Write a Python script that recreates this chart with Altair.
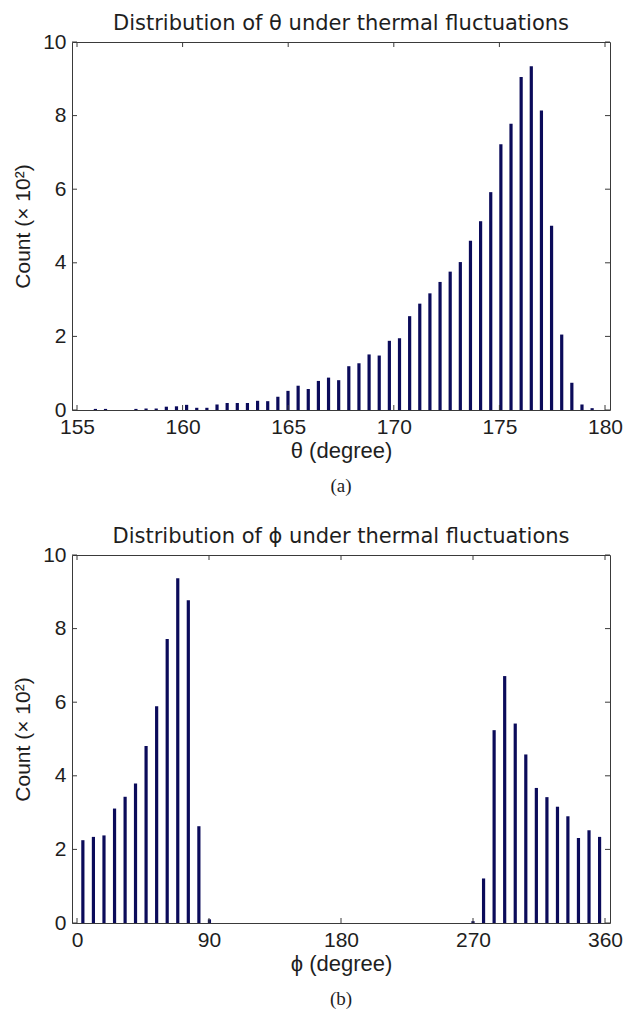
import altair as alt
import pandas as pd

# ---------------- data ----------------
theta_centers = [155.87, 156.35, 156.83, 157.31, 157.79, 158.27, 158.75, 159.23, 159.71, 160.19,
                 160.67, 161.15, 161.63, 162.11, 162.59, 163.07, 163.55, 164.03, 164.51, 164.99,
                 165.47, 165.95, 166.43, 166.91, 167.39, 167.87, 168.35, 168.83, 169.31, 169.79,
                 170.27, 170.75, 171.23, 171.71, 172.19, 172.67, 173.15, 173.63, 174.11, 174.59,
                 175.07, 175.55, 176.03, 176.51, 176.99, 177.47, 177.95, 178.43, 178.91, 179.39]
theta_counts = [0.03, 0.03, 0.0, 0.0, 0.03, 0.04, 0.04, 0.09, 0.10, 0.14,
                0.06, 0.06, 0.15, 0.19, 0.19, 0.19, 0.25, 0.24, 0.36, 0.52,
                0.66, 0.57, 0.79, 0.88, 0.81, 1.19, 1.27, 1.51, 1.48, 1.88,
                1.95, 2.55, 2.89, 3.17, 3.48, 3.76, 4.02, 4.60, 5.13, 5.92,
                7.22, 7.78, 9.05, 9.34, 8.14, 5.01, 2.05, 0.74, 0.15, 0.05]

phi_centers = [4.0, 11.2, 18.4, 25.6, 32.8, 39.9, 47.1, 54.3, 61.5, 68.7,
               75.9, 83.1, 90.3, 97.5, 104.7, 111.9, 119.0, 126.2, 133.4, 140.6,
               147.8, 155.0, 162.2, 169.4, 176.6, 183.8, 190.9, 198.1, 205.3, 212.5,
               219.7, 226.9, 234.1, 241.3, 248.5, 255.7, 262.8, 270.0, 277.2, 284.4,
               291.6, 298.8, 306.0, 313.2, 320.4, 327.6, 334.7, 341.9, 349.1, 356.3]
phi_counts = [2.25, 2.34, 2.38, 3.11, 3.43, 3.79, 4.81, 5.89, 7.72, 9.37,
              8.77, 2.63, 0.10, 0, 0, 0, 0, 0, 0, 0,
              0, 0, 0, 0, 0, 0, 0, 0, 0, 0,
              0, 0, 0, 0, 0, 0, 0, 0.05, 1.21, 5.24,
              6.71, 5.42, 4.58, 3.67, 3.42, 3.16, 2.90, 2.31, 2.52, 2.34]

theta_ticks = [155, 160, 165, 170, 175, 180]
phi_ticks = [0, 90, 180, 270, 360]
count_ticks = [0, 2, 4, 6, 8, 10]

# ---------------- style ----------------
W, H = 538, 368
BAR = "#0b0b5a"
EDGE = "#3a3a3a"
TXT = "#1e1e1e"
TICK = 5
FS = 21


def axis(vals, title, lp, tp, tfs):
    return alt.Axis(values=vals, title=title, labelFlush=False, format="d",
                    labelPadding=lp, titlePadding=tp, grid=False, domain=False,
                    ticks=False, labelFont="Liberation Sans", labelFontSize=FS,
                    labelColor=TXT, titleFont="Liberation Sans", titleFontSize=tfs,
                    titleFontWeight="normal", titleColor=TXT)


def panel(centers, counts, xticks, xdom, title, xtitle, caption):
    df = pd.DataFrame({"c": centers, "n": counts})
    xs = alt.Scale(domain=xdom, nice=False, zero=False)
    ys = alt.Scale(domain=[0, 10], nice=False)
    xax = axis(xticks, xtitle, 6, 3, 22)
    yax = axis(count_ticks, "Count (× 10²)", 6, 9, 21)

    bars = alt.Chart(df).mark_bar(size=3.2, color=BAR).encode(
        x=alt.X("c:Q", scale=xs, axis=xax),
        y=alt.Y("n:Q", scale=ys, axis=yax),
    )

    xt = pd.DataFrame({"c": xticks})
    yt = pd.DataFrame({"n": count_ticks})
    xbot = alt.Chart(xt).mark_rule(color=EDGE).encode(
        x=alt.X("c:Q", scale=xs, axis=xax), y=alt.value(H), y2=alt.value(H - TICK))
    xtop = alt.Chart(xt).mark_rule(color=EDGE).encode(
        x=alt.X("c:Q", scale=xs, axis=xax), y=alt.value(0), y2=alt.value(TICK))
    yl = alt.Chart(yt).mark_rule(color=EDGE).encode(
        y=alt.Y("n:Q", scale=ys, axis=yax), x=alt.value(0), x2=alt.value(TICK))
    yr = alt.Chart(yt).mark_rule(color=EDGE).encode(
        y=alt.Y("n:Q", scale=ys, axis=yax), x=alt.value(W), x2=alt.value(W - TICK))

    cap = alt.Chart(pd.DataFrame({"cap": [caption]})).mark_text(
        font="Liberation Serif", fontSize=19, color=TXT, baseline="middle").encode(
        x=alt.value(W / 2), y=alt.value(H + 76), text="cap:N")

    return alt.layer(bars, xbot, xtop, yl, yr, cap).properties(
        width=W, height=H,
        title=alt.TitleParams(title, font="DejaVu Sans", fontSize=21,
                              fontWeight="normal", color=TXT, offset=-3,
                              frame="group"),
    )


pa = panel(theta_centers, theta_counts, theta_ticks, [155, 180],
           "Distribution of θ under thermal fluctuations", "θ (degree)", "(a)")
pb = panel(phi_centers, phi_counts, phi_ticks, [0, 360],
           "Distribution of ϕ under thermal fluctuations", "ϕ (degree)", "(b)")

chart = alt.vconcat(pa, pb, spacing=28).properties(
    padding={"left": 4, "top": 4, "right": 2, "bottom": 2},
    background="white",
).configure_view(
    stroke=EDGE, strokeWidth=1
)

chart.save("out.html", embed_options={"renderer": "svg", "actions": False})
